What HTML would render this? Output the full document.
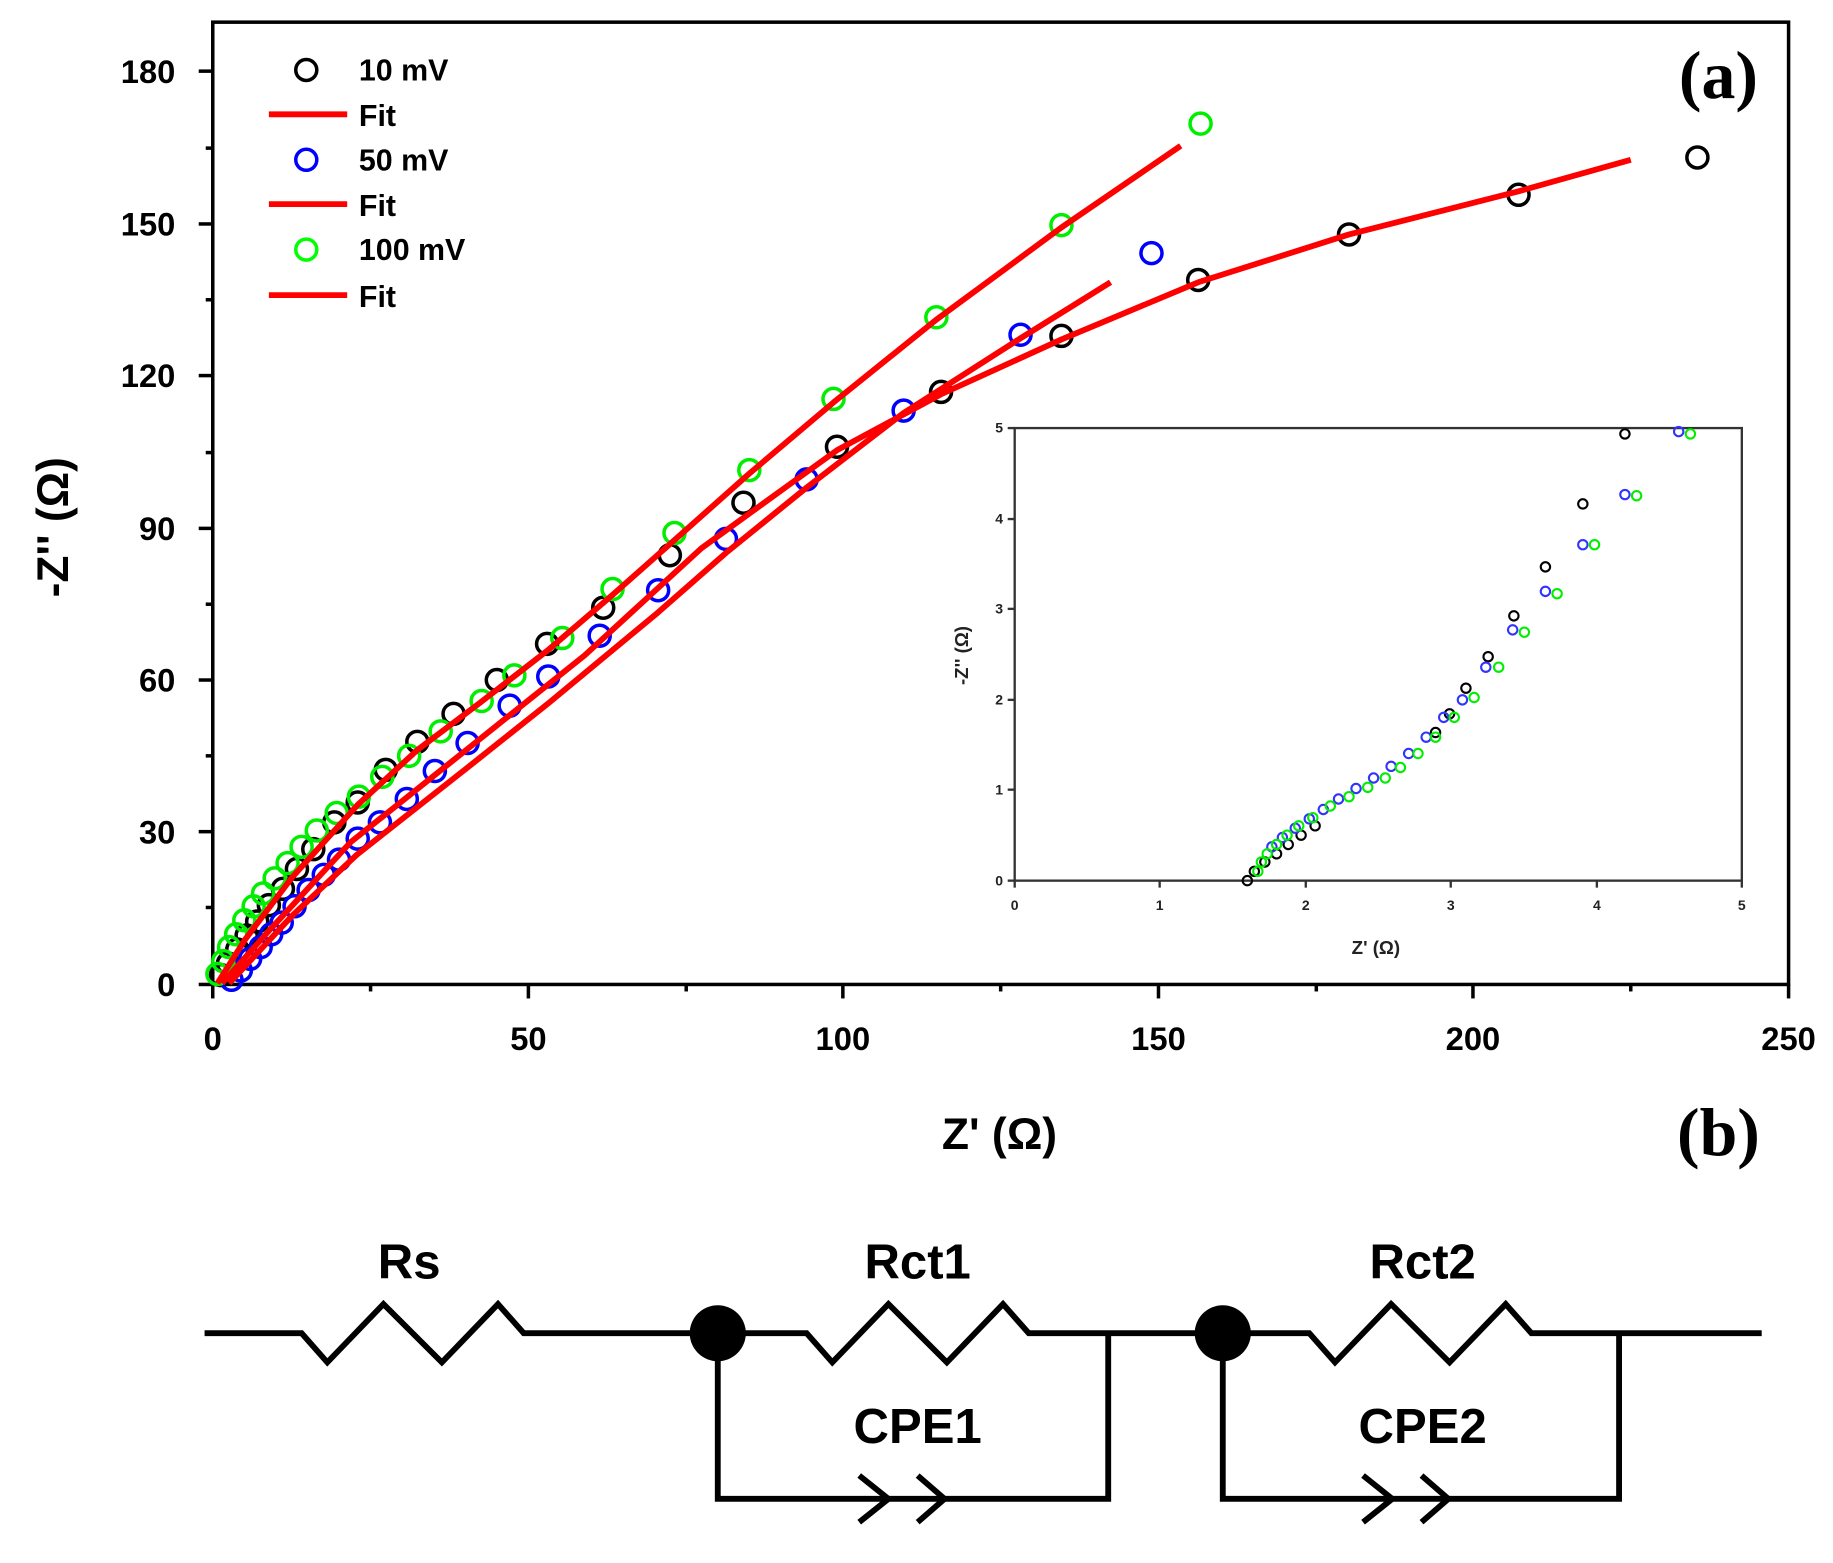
<!DOCTYPE html>
<html><head><meta charset="utf-8"><style>
html,body{margin:0;padding:0;background:#fff;}
svg{display:block;}
text{font-family:"Liberation Sans",sans-serif;font-weight:bold;}
</style></head><body>
<svg width="1833" height="1563" viewBox="0 0 1568 1340" preserveAspectRatio="none" xmlns="http://www.w3.org/2000/svg">
<rect width="1568" height="1340" fill="#fff"/>
<rect x="182" y="19" width="1348" height="825" fill="none" stroke="#000" stroke-width="3"/>
<g stroke="#000" stroke-width="3">
<line x1="170" y1="844" x2="182" y2="844"/><line x1="170" y1="713" x2="182" y2="713"/><line x1="170" y1="583" x2="182" y2="583"/><line x1="170" y1="453" x2="182" y2="453"/><line x1="170" y1="322" x2="182" y2="322"/><line x1="170" y1="192" x2="182" y2="192"/><line x1="170" y1="61" x2="182" y2="61"/>
<line x1="176" y1="778" x2="182" y2="778"/><line x1="176" y1="648" x2="182" y2="648"/><line x1="176" y1="518" x2="182" y2="518"/><line x1="176" y1="388" x2="182" y2="388"/><line x1="176" y1="257" x2="182" y2="257"/><line x1="176" y1="127" x2="182" y2="127"/>
<line x1="182" y1="844" x2="182" y2="856"/><line x1="452" y1="844" x2="452" y2="856"/><line x1="721" y1="844" x2="721" y2="856"/><line x1="991" y1="844" x2="991" y2="856"/><line x1="1260" y1="844" x2="1260" y2="856"/><line x1="1530" y1="844" x2="1530" y2="856"/>
<line x1="317" y1="844" x2="317" y2="850"/><line x1="587" y1="844" x2="587" y2="850"/><line x1="856" y1="844" x2="856" y2="850"/><line x1="1126" y1="844" x2="1126" y2="850"/><line x1="1395" y1="844" x2="1395" y2="850"/>
</g>
<g font-size="28" text-anchor="end">
<text x="150" y="854">0</text><text x="150" y="723">30</text><text x="150" y="593">60</text><text x="150" y="463">90</text><text x="150" y="332">120</text><text x="150" y="202">150</text><text x="150" y="71">180</text>
</g>
<g font-size="28" text-anchor="middle">
<text x="182" y="900">0</text><text x="452" y="900">50</text><text x="721" y="900">100</text><text x="991" y="900">150</text><text x="1260" y="900">200</text><text x="1530" y="900">250</text>
</g>
<text x="855" y="985" font-size="38" text-anchor="middle">Z' (Ω)</text>
<text transform="translate(58,452) rotate(-90)" font-size="38" text-anchor="middle">-Z'' (Ω)</text>
<text x="1470" y="84" font-size="58" text-anchor="middle" style="font-family:'Liberation Serif',serif">(a)</text>
<text x="1470" y="990" font-size="58" text-anchor="middle" style="font-family:'Liberation Serif',serif">(b)</text>
<g font-size="26">
<circle cx="262" cy="60" r="9" fill="none" stroke="#000" stroke-width="3"/><text x="307" y="69">10 mV</text>
<line x1="230" y1="98" x2="297" y2="98" stroke="#f00" stroke-width="5"/><text x="307" y="108">Fit</text>
<circle cx="262" cy="137" r="9" fill="none" stroke="#00f" stroke-width="3"/><text x="307" y="146">50 mV</text>
<line x1="230" y1="175" x2="297" y2="175" stroke="#f00" stroke-width="5"/><text x="307" y="185">Fit</text>
<circle cx="262" cy="214" r="9" fill="none" stroke="#0f0" stroke-width="3"/><text x="307" y="223">100 mV</text>
<line x1="230" y1="253" x2="297" y2="253" stroke="#f00" stroke-width="5"/><text x="307" y="263">Fit</text>
</g>
<g fill="none" stroke-width="3">
<g stroke="#000">
<circle cx="1452" cy="135" r="9"/><circle cx="1299" cy="167" r="9"/><circle cx="1154" cy="201" r="9"/><circle cx="1025" cy="240" r="9"/><circle cx="908" cy="288" r="9"/><circle cx="805" cy="336" r="9"/><circle cx="716" cy="383" r="9"/><circle cx="636" cy="431" r="9"/><circle cx="573" cy="476" r="9"/><circle cx="516" cy="521" r="9"/><circle cx="468" cy="552" r="9"/><circle cx="425" cy="583" r="9"/><circle cx="388" cy="612" r="9"/><circle cx="357" cy="636" r="9"/><circle cx="330" cy="660" r="9"/><circle cx="306" cy="688" r="9"/><circle cx="286" cy="705" r="9"/><circle cx="268" cy="728" r="9"/><circle cx="254" cy="745" r="9"/><circle cx="242" cy="762" r="9"/><circle cx="230" cy="776" r="9"/><circle cx="220" cy="790" r="9"/><circle cx="211" cy="802" r="9"/><circle cx="203" cy="814" r="9"/><circle cx="195" cy="826" r="9"/><circle cx="189" cy="836" r="9"/>
</g>
<g stroke="#00f">
<circle cx="985" cy="217" r="9"/><circle cx="873" cy="287" r="9"/><circle cx="773" cy="352" r="9"/><circle cx="690" cy="411" r="9"/><circle cx="621" cy="462" r="9"/><circle cx="563" cy="506" r="9"/><circle cx="513" cy="545" r="9"/><circle cx="469" cy="580" r="9"/><circle cx="436" cy="605" r="9"/><circle cx="400" cy="637" r="9"/><circle cx="372" cy="661" r="9"/><circle cx="348" cy="685" r="9"/><circle cx="325" cy="705" r="9"/><circle cx="306" cy="719" r="9"/><circle cx="290" cy="737" r="9"/><circle cx="277" cy="750" r="9"/><circle cx="264" cy="763" r="9"/><circle cx="252" cy="777" r="9"/><circle cx="241" cy="791" r="9"/><circle cx="232" cy="801" r="9"/><circle cx="223" cy="812" r="9"/><circle cx="214" cy="822" r="9"/><circle cx="206" cy="832" r="9"/><circle cx="198" cy="840" r="9"/>
</g>
<g stroke="#0e0">
<circle cx="1027" cy="106" r="9"/><circle cx="908" cy="193" r="9"/><circle cx="801" cy="272" r="9"/><circle cx="713" cy="342" r="9"/><circle cx="641" cy="403" r="9"/><circle cx="577" cy="457" r="9"/><circle cx="524" cy="505" r="9"/><circle cx="481" cy="547" r="9"/><circle cx="440" cy="579" r="9"/><circle cx="412" cy="601" r="9"/><circle cx="377" cy="627" r="9"/><circle cx="350" cy="648" r="9"/><circle cx="327" cy="666" r="9"/><circle cx="307" cy="683" r="9"/><circle cx="288" cy="697" r="9"/><circle cx="271" cy="712" r="9"/><circle cx="258" cy="726" r="9"/><circle cx="246" cy="740" r="9"/><circle cx="235" cy="753" r="9"/><circle cx="225" cy="766" r="9"/><circle cx="217" cy="777" r="9"/><circle cx="209" cy="789" r="9"/><circle cx="202" cy="801" r="9"/><circle cx="196" cy="812" r="9"/><circle cx="191" cy="824" r="9"/><circle cx="186" cy="835" r="9"/>
</g>
</g>
<g fill="none" stroke="#f00" stroke-width="5" stroke-linejoin="round">
<polyline points="186,843 210,805 250,752 306,690 357,643 410,603 468,558 524,510 577,463 641,406 713,345 801,274 908,195 1010,125"/>
<polyline points="196,843 250,785 305,733 400,658 469,603 563,525 621,474 690,418 773,354 873,290 950,242"/>
<polyline points="190,843 230,798 300,722 400,642 500,562 600,470 680,412 716,386 805,338 908,291 1025,242 1154,201 1299,164 1395,137"/>
</g>
<rect x="868" y="367" width="622" height="388" fill="none" stroke="#333" stroke-width="2"/>
<g stroke="#333" stroke-width="2">
<line x1="862" y1="755" x2="868" y2="755"/><line x1="862" y1="677" x2="868" y2="677"/><line x1="862" y1="600" x2="868" y2="600"/><line x1="862" y1="522" x2="868" y2="522"/><line x1="862" y1="445" x2="868" y2="445"/><line x1="862" y1="367" x2="868" y2="367"/>
<line x1="868" y1="755" x2="868" y2="761"/><line x1="992" y1="755" x2="992" y2="761"/><line x1="1117" y1="755" x2="1117" y2="761"/><line x1="1241" y1="755" x2="1241" y2="761"/><line x1="1366" y1="755" x2="1366" y2="761"/><line x1="1490" y1="755" x2="1490" y2="761"/>
</g>
<g font-size="12" text-anchor="end" fill="#222">
<text x="858" y="759">0</text><text x="858" y="681">1</text><text x="858" y="604">2</text><text x="858" y="526">3</text><text x="858" y="449">4</text><text x="858" y="371">5</text>
</g>
<g font-size="12" text-anchor="middle" fill="#222">
<text x="868" y="780">0</text><text x="992" y="780">1</text><text x="1117" y="780">2</text><text x="1241" y="780">3</text><text x="1366" y="780">4</text><text x="1490" y="780">5</text>
</g>
<text x="1177" y="818" font-size="16" text-anchor="middle" fill="#222">Z' (Ω)</text>
<text transform="translate(828,562) rotate(-90)" font-size="16" text-anchor="middle" fill="#222">-Z'' (Ω)</text>
<g fill="none" stroke-width="1.8">
<g stroke="#000">
<circle cx="1390" cy="372" r="4"/><circle cx="1354" cy="432" r="4"/><circle cx="1322" cy="486" r="4"/><circle cx="1295" cy="528" r="4"/><circle cx="1273" cy="563" r="4"/><circle cx="1254" cy="590" r="4"/><circle cx="1240" cy="612" r="4"/><circle cx="1228" cy="628" r="4"/>
<circle cx="1067" cy="755" r="4"/><circle cx="1073" cy="747" r="4"/><circle cx="1082" cy="739" r="4"/><circle cx="1092" cy="732" r="4"/><circle cx="1102" cy="724" r="4"/><circle cx="1113" cy="716" r="4"/><circle cx="1125" cy="708" r="4"/>
</g>
<g stroke="#33f">
<circle cx="1436" cy="370" r="4"/><circle cx="1390" cy="424" r="4"/><circle cx="1354" cy="467" r="4"/><circle cx="1322" cy="507" r="4"/><circle cx="1294" cy="540" r="4"/><circle cx="1271" cy="572" r="4"/><circle cx="1251" cy="600" r="4"/><circle cx="1235" cy="615" r="4"/><circle cx="1220" cy="632" r="4"/><circle cx="1205" cy="646" r="4"/><circle cx="1190" cy="657" r="4"/><circle cx="1175" cy="667" r="4"/><circle cx="1160" cy="676" r="4"/><circle cx="1145" cy="685" r="4"/><circle cx="1132" cy="694" r="4"/><circle cx="1120" cy="702" r="4"/><circle cx="1108" cy="710" r="4"/><circle cx="1097" cy="718" r="4"/><circle cx="1088" cy="726" r="4"/>
</g>
<g stroke="#0e0">
<circle cx="1446" cy="372" r="4"/><circle cx="1400" cy="425" r="4"/><circle cx="1364" cy="467" r="4"/><circle cx="1332" cy="509" r="4"/><circle cx="1304" cy="542" r="4"/><circle cx="1282" cy="572" r="4"/><circle cx="1261" cy="598" r="4"/><circle cx="1244" cy="615" r="4"/><circle cx="1228" cy="632" r="4"/><circle cx="1213" cy="646" r="4"/><circle cx="1198" cy="658" r="4"/><circle cx="1185" cy="667" r="4"/><circle cx="1170" cy="675" r="4"/><circle cx="1154" cy="683" r="4"/><circle cx="1138" cy="691" r="4"/><circle cx="1123" cy="701" r="4"/><circle cx="1111" cy="708" r="4"/><circle cx="1101" cy="716" r="4"/><circle cx="1092" cy="724" r="4"/><circle cx="1084" cy="732" r="4"/><circle cx="1079" cy="739" r="4"/><circle cx="1076" cy="747" r="4"/>
</g>
</g>
<g fill="none" stroke="#000" stroke-width="5" stroke-linejoin="miter">
<polyline points="175,1143 258,1143 280,1168 328,1118 378,1168 426,1118 448,1143 614,1143"/>
<polyline points="614,1143 690,1143 712,1168 760,1118 810,1168 858,1118 880,1143 1046,1143"/>
<polyline points="1046,1143 1120,1143 1142,1168 1190,1118 1240,1168 1288,1118 1310,1143 1507,1143"/>
<polyline points="614,1143 614,1285 948,1285 948,1143"/>
<polyline points="1046,1143 1046,1285 1385,1285 1385,1143"/>
<polyline points="735,1265 760,1285 735,1305"/>
<polyline points="785,1265 808,1285 785,1305"/>
<polyline points="1166,1265 1191,1285 1166,1305"/>
<polyline points="1216,1265 1239,1285 1216,1305"/>
</g>
<circle cx="614" cy="1143" r="24" fill="#000"/>
<circle cx="1046" cy="1143" r="24" fill="#000"/>
<g font-size="42" text-anchor="middle">
<text x="350" y="1096">Rs</text><text x="785" y="1096">Rct1</text><text x="1217" y="1096">Rct2</text>
<text x="785" y="1237">CPE1</text><text x="1217" y="1237">CPE2</text>
</g>
</svg>
</body></html>
